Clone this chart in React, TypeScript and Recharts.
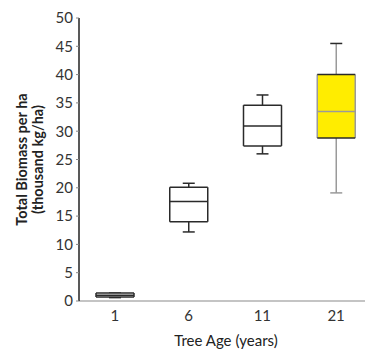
import React from 'react';
import { ComposedChart, Bar, XAxis, YAxis } from 'recharts';

const categories = ['1', '6', '11', '21'];
const minValues = [0.6, 12.2, 26.0, 19.1];
const q1Values = [0.7, 14.0, 27.4, 28.8];
const medianValues = [1.0, 17.6, 30.9, 33.5];
const q3Values = [1.4, 20.1, 34.6, 40.0];
const maxValues = [1.4, 20.8, 36.4, 45.5];
const fills = ['#ffffff', '#ffffff', '#ffffff', '#ffed00'];
const yTicks = [0, 5, 10, 15, 20, 25, 30, 35, 40, 45, 50];

const data = categories.map((c, i) => ({
  age: c,
  min: minValues[i],
  q1: q1Values[i],
  median: medianValues[i],
  q3: q3Values[i],
  max: maxValues[i],
  fill: fills[i],
}));

const FONT = 'Lato, "Open Sans", sans-serif';

const BoxShape = (props: any) => {
  const { x, y, width, height, payload } = props;
  const { min, q1, median, q3, max, fill } = payload;
  const span = max - min || 1;
  const py = (v: number) => y + (height * (max - v)) / span;
  const cx = x + width / 2;
  const highlighted = fill !== '#ffffff';
  const dark = '#2a2a2a';
  const side = highlighted ? '#9a9a9a' : dark;
  const whisk = highlighted ? '#9a9a9a' : dark;
  const capW = 6;
  return (
    <g>
      <line x1={cx} x2={cx} y1={py(max)} y2={py(q3)} stroke={whisk} strokeWidth={1.5} />
      <line x1={cx} x2={cx} y1={py(q1)} y2={py(min)} stroke={whisk} strokeWidth={1.5} />
      <line x1={cx - capW} x2={cx + capW} y1={py(max)} y2={py(max)} stroke={dark} strokeWidth={1.5} />
      <line x1={cx - capW} x2={cx + capW} y1={py(min)} y2={py(min)} stroke={whisk} strokeWidth={1.5} />
      <rect x={x} y={py(q3)} width={width} height={py(q1) - py(q3)} fill={fill} stroke="none" />
      <line x1={x} x2={x} y1={py(q3)} y2={py(q1)} stroke={side} strokeWidth={1.5} />
      <line x1={x + width} x2={x + width} y1={py(q3)} y2={py(q1)} stroke={side} strokeWidth={1.5} />
      <line x1={x} x2={x + width} y1={py(q3)} y2={py(q3)} stroke={dark} strokeWidth={1.5} />
      <line x1={x} x2={x + width} y1={py(q1)} y2={py(q1)} stroke={dark} strokeWidth={1.5} />
      <line x1={x} x2={x + width} y1={py(median)} y2={py(median)} stroke={highlighted ? '#9a9a9a' : dark} strokeWidth={1.5} />
    </g>
  );
};

const YTitle = (props: any) => {
  const { viewBox } = props;
  const cy = viewBox.y + viewBox.height / 2;
  return (
    <g>
      <text x={21} y={cy} transform={`rotate(-90, 21, ${cy})`} textAnchor="middle" dominantBaseline="central"
        fontFamily={FONT} fontWeight="bold" fontSize={14.5} fill="#222">Total Biomass per ha</text>
      <text x={37} y={cy} transform={`rotate(-90, 37, ${cy})`} textAnchor="middle" dominantBaseline="central"
        fontFamily={FONT} fontWeight="bold" fontSize={14.5} fill="#222">(thousand kg/ha)</text>
    </g>
  );
};

const XTitle = () => (
  <text x={226} y={340} textAnchor="middle" dominantBaseline="central" fontFamily={FONT} fontSize={15} fill="#222">
    Tree Age (years)
  </text>
);

export default function App() {
  return (
    <div style={{ position: 'absolute', left: 0, top: 0, background: '#fff' }}>
      <ComposedChart width={365} height={351} data={data} margin={{ top: 18, right: 0, bottom: 0, left: 0 }}>
        <XAxis
          dataKey="age"
          height={50}
          padding={{ left: -1, right: -8 }}
          axisLine={{ stroke: '#c4c4c4', strokeWidth: 2 }}
          tickLine={false}
          tickMargin={3}
          tick={{ fontFamily: FONT, fontSize: 15, fill: '#333' }}
          label={<XTitle />}
        />
        <YAxis
          width={79}
          domain={[0, 50]}
          ticks={yTicks}
          interval={0}
          axisLine={{ stroke: '#222', strokeWidth: 1.5 }}
          tickLine={{ stroke: '#888' }}
          tickSize={3}
          tickMargin={3}
          tick={{ fontFamily: FONT, fontSize: 15, fill: '#333' }}
          label={<YTitle />}
        />
        <Bar
          dataKey={(d: any) => [d.min, d.max]}
          barSize={38}
          shape={<BoxShape />}
          isAnimationActive={false}
        />
      </ComposedChart>
    </div>
  );
}
